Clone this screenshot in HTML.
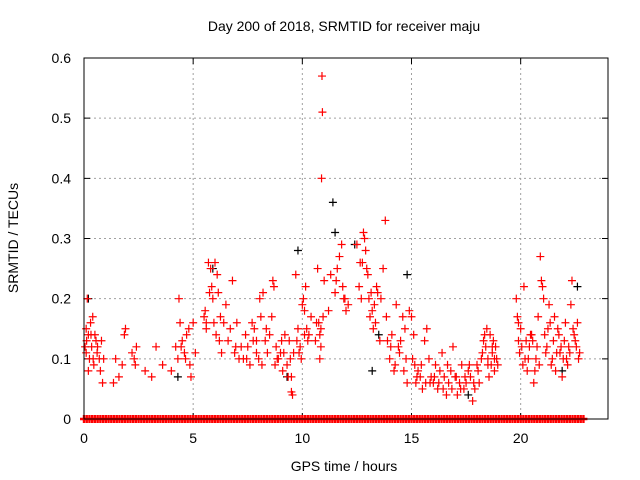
<!DOCTYPE html>
<html><head><meta charset="utf-8"><style>
body{margin:0;background:#fff}
svg{display:block;font-family:"Liberation Sans",sans-serif}
</style></head><body>
<svg id="chart" width="640" height="480" viewBox="0 0 640 480">
<rect width="640" height="480" fill="#fff"/>
<text x="344" y="31" text-anchor="middle" font-size="14">Day 200 of 2018, SRMTID for receiver maju</text>
<text transform="translate(18,238) rotate(-90)" text-anchor="middle" font-size="14">SRMTID / TECUs</text>
<text x="344" y="471" text-anchor="middle" font-size="14">GPS time / hours</text>
<g id="grid"></g>
<g id="ticks"></g>
<g id="zeros"></g>
<g id="black"></g>
<g id="red"></g>
<rect x="84" y="58" width="524" height="361" fill="none" stroke="#000" stroke-width="1"/>
</svg>
<script>
const xTicks=[0,5,10,15,20];
const yTicks=[0,0.1,0.2,0.3,0.4,0.5,0.6];
const yTickLabels=["0","0.1","0.2","0.3","0.4","0.5","0.6"];
const redT=[0.1,0.15,0.2,0.25,0.3,0.35,0.4,0.45,0.5,0.55,0.6,0.7,0.75,0.8,0.85,0.9,0.1,0.05,0.2,
1.35,1.45,1.6,1.75,1.9,1.85,2.2,2.3,2.4,2.35,
2.8,3.1,3.3,3.6,4.0,4.2,4.3,4.35,4.4,4.5,4.6,4.7,4.8,4.85,4.9,5.0,5.1,
5.5,5.55,5.6,5.7,5.8,5.85,5.9,5.95,6.0,6.1,6.15,6.2,6.3,6.4,6.5,6.6,6.7,6.8,6.9,7.0,7.1,7.2,7.3,7.4,7.5,
7.6,7.7,7.75,7.8,7.9,8.0,8.05,8.1,8.2,8.3,8.4,8.5,8.6,8.65,8.7,8.75,8.8,8.9,9.0,9.1,9.2,9.3,9.4,9.5,9.5,9.55,9.6,
9.7,9.75,9.8,9.85,9.9,10.0,10.05,10.1,10.15,10.2,10.3,10.4,10.6,10.7,10.75,10.8,10.85,10.9,10.92,10.88,10.95,10.8,10.85,11.0,
11.3,11.5,11.6,11.7,11.8,11.85,11.9,12.0,12.1,12.5,12.6,12.7,12.75,12.8,12.85,12.9,12.95,13.0,13.05,13.1,13.2,13.25,13.3,13.4,13.45,
13.6,13.7,13.8,13.85,13.9,14.0,14.1,14.2,14.3,14.4,14.5,14.6,14.7,14.75,14.8,14.9,15.0,15.05,15.1,15.15,15.2,
15.3,15.4,15.5,15.6,15.7,15.8,15.9,16.0,16.1,16.2,16.3,16.4,16.5,16.6,16.7,16.8,16.9,17.0,17.1,17.2,17.3,
17.4,17.5,17.6,17.7,17.8,17.9,18.0,18.1,18.2,18.3,18.4,18.5,18.6,18.7,18.8,18.9,18.55,18.45,18.75,18.85,
19.8,19.85,19.9,19.95,20.0,20.1,20.2,20.3,20.4,20.5,20.6,20.7,20.8,20.9,20.95,21.0,21.1,21.2,21.3,21.4,21.5,21.6,21.7,21.8,21.9,22.0,22.1,22.2,22.3,22.35,22.4,22.5,22.6,22.7,20.15,20.25,20.85,21.05,
0.12,0.32,0.42,0.62,4.45,4.65,5.6,5.75,6.05,6.25,6.95,7.45,7.9,8.15,8.35,8.85,9.05,9.15,9.35,9.45,9.95,10.1,10.25,10.65,11.2,11.55,11.95,12.65,13.15,13.35,13.55,14.05,14.25,14.45,14.65,15.25,15.45,15.65,15.85,16.05,16.25,16.45,16.65,16.85,17.05,17.25,17.45,17.65,17.85,18.05,18.25,18.35,18.5,18.65,18.7,18.8,18.95,19.9,20.05,20.35,20.45,20.55,20.65,20.75,21.15,21.25,21.35,21.45,21.55,21.65,21.75,21.85,21.95,22.05,22.15,22.25,22.45,22.55,22.65];
const redV=[0.15,0.2,0.14,0.1,0.16,0.12,0.17,0.09,0.14,0.13,0.11,0.1,0.08,0.13,0.06,0.1,0.11,0.12,0.08,
0.06,0.1,0.07,0.09,0.15,0.14,0.11,0.1,0.12,0.09,
0.08,0.07,0.12,0.09,0.08,0.12,0.1,0.2,0.16,0.13,0.11,0.14,0.15,0.09,0.07,0.16,0.11,
0.17,0.18,0.16,0.26,0.25,0.22,0.2,0.16,0.26,0.24,0.21,0.13,0.11,0.16,0.19,0.13,0.15,0.23,0.11,0.16,0.1,0.12,0.1,0.14,0.12,
0.09,0.16,0.13,0.15,0.11,0.1,0.2,0.17,0.21,0.13,0.11,0.14,0.17,0.23,0.22,0.09,0.12,0.1,0.11,0.08,0.14,0.09,0.13,0.07,0.045,0.04,0.11,
0.24,0.13,0.15,0.11,0.12,0.19,0.2,0.18,0.22,0.15,0.14,0.17,0.13,0.25,0.16,0.14,0.15,0.57,0.51,0.4,0.17,0.1,0.12,0.23,
0.24,0.21,0.25,0.27,0.29,0.22,0.2,0.18,0.19,0.29,0.22,0.2,0.26,0.31,0.3,0.28,0.25,0.24,0.2,0.17,0.18,0.15,0.19,0.22,0.21,
0.2,0.25,0.33,0.17,0.13,0.1,0.14,0.08,0.19,0.12,0.13,0.17,0.15,0.1,0.06,0.18,0.17,0.1,0.14,0.09,0.06,
0.08,0.07,0.05,0.13,0.15,0.1,0.07,0.06,0.09,0.05,0.08,0.11,0.07,0.04,0.06,0.08,0.12,0.07,0.04,0.06,0.09,
0.05,0.06,0.08,0.07,0.03,0.05,0.09,0.06,0.1,0.13,0.12,0.09,0.14,0.11,0.08,0.1,0.07,0.15,0.13,0.12,
0.2,0.17,0.13,0.11,0.15,0.09,0.1,0.08,0.12,0.14,0.06,0.1,0.17,0.27,0.23,0.22,0.14,0.12,0.19,0.09,0.13,0.08,0.15,0.11,0.07,0.13,0.1,0.12,0.19,0.23,0.15,0.13,0.16,0.11,0.22,0.13,0.09,0.2,
0.13,0.14,0.1,0.12,0.12,0.1,0.15,0.21,0.14,0.17,0.12,0.1,0.13,0.09,0.15,0.1,0.13,0.11,0.07,0.1,0.1,0.14,0.13,0.16,0.18,0.23,0.2,0.26,0.21,0.16,0.13,0.12,0.09,0.11,0.08,0.07,0.09,0.06,0.06,0.07,0.06,0.05,0.09,0.05,0.07,0.05,0.07,0.09,0.06,0.08,0.11,0.14,0.1,0.09,0.12,0.1,0.09,0.16,0.12,0.1,0.14,0.13,0.08,0.12,0.11,0.15,0.16,0.1,0.17,0.11,0.14,0.12,0.1,0.16,0.09,0.11,0.14,0.12,0.1,0.14];
const blackT=[0.2,4.3,5.9,9.3,9.8,11.4,11.5,12.4,13.5,14.8,13.2,21.9,22.6,17.6];
const blackV=[0.2,0.07,0.25,0.07,0.28,0.36,0.31,0.29,0.14,0.24,0.08,0.08,0.22,0.04];
const zeroT=[0,0.125,0.25,0.375,0.5,0.625,0.75,0.875,1,1.125,1.25,1.375,1.5,1.625,1.75,1.875,2,2.125,2.25,2.375,2.5,2.625,2.75,2.875,3,3.125,3.25,3.375,3.5,3.625,3.75,3.875,4,4.125,4.25,4.375,4.5,4.625,4.75,4.875,5,5.125,5.25,5.375,5.5,5.625,5.75,5.875,6,6.125,6.25,6.375,6.5,6.625,6.75,6.875,7,7.125,7.25,7.375,7.5,7.625,7.75,7.875,8,8.125,8.25,8.375,8.5,8.625,8.75,8.875,9,9.125,9.25,9.375,9.5,9.625,9.75,9.875,10,10.125,10.25,10.375,10.5,10.625,10.75,10.875,11,11.125,11.25,11.375,11.5,11.625,11.75,11.875,12,12.125,12.25,12.375,12.5,12.625,12.75,12.875,13,13.125,13.25,13.375,13.5,13.625,13.75,13.875,14,14.125,14.25,14.375,14.5,14.625,14.75,14.875,15,15.125,15.25,15.375,15.5,15.625,15.75,15.875,16,16.125,16.25,16.375,16.5,16.625,16.75,16.875,17,17.125,17.25,17.375,17.5,17.625,17.75,17.875,18,18.125,18.25,18.375,18.5,18.625,18.75,18.875,19,19.125,19.25,19.375,19.5,19.625,19.75,19.875,20,20.125,20.25,20.375,20.5,20.625,20.75,20.875,21,21.125,21.25,21.375,21.5,21.625,21.75,21.875,22,22.125,22.25,22.375,22.5,22.625,22.75,22.875];
const NS="http://www.w3.org/2000/svg";
const X=t=>84+t*(524/24);
const Y=v=>419-v*(361/0.6);
function mk(tag,attrs,parent){const e=document.createElementNS(NS,tag);for(const k in attrs)e.setAttribute(k,attrs[k]);parent.appendChild(e);return e;}
const grid=document.getElementById('grid'),ticks=document.getElementById('ticks');
xTicks.forEach(t=>{
 if(t>0){const l=mk('line',{x1:X(t),x2:X(t),y1:58,y2:419,stroke:'#a0a0a0','stroke-dasharray':'2,3'},grid);
 
 }
 const a=mk('path',{d:`M${X(t)},419v-6M${X(t)},58v6`,stroke:'#000'},ticks);
 
 
 const tx=mk('text',{x:X(t),y:443,'text-anchor':'middle','font-size':'14'},ticks);tx.textContent=String(t);
 
 
});
yTicks.forEach((v,i)=>{
 if(v>0&&v<0.6){const l=mk('line',{x1:84,x2:608,y1:Y(v),y2:Y(v),stroke:'#a0a0a0','stroke-dasharray':'2,3'},grid);
 
 }
 const a=mk('path',{d:`M84,${Y(v)}h6M608,${Y(v)}h-6`,stroke:'#000'},ticks);
 
 
 const tx=mk('text',{x:71,y:Y(v)+5,'text-anchor':'end','font-size':'14'},ticks);tx.textContent=yTickLabels[i];
 
 
});
function plus(g,t,v,c,w){const p=mk('path',{d:`M${X(t)-4},${Y(v)}h8M${X(t)},${Y(v)-4}v8`,stroke:c,'stroke-width':w||'1.2'},g);return p;}
const gb=document.getElementById('black');
blackT.forEach((t,i)=>{const p=plus(gb,t,blackV[i],'#000');
 
 });
const gz=document.getElementById('zeros');
zeroT.forEach(t=>{const p=plus(gz,t,0,'#f00','2.4');
 
 });
const gr=document.getElementById('red');
redT.forEach((t,i)=>{const p=plus(gr,t,redV[i],'#f00');
 
 });
</script>
</body></html>
